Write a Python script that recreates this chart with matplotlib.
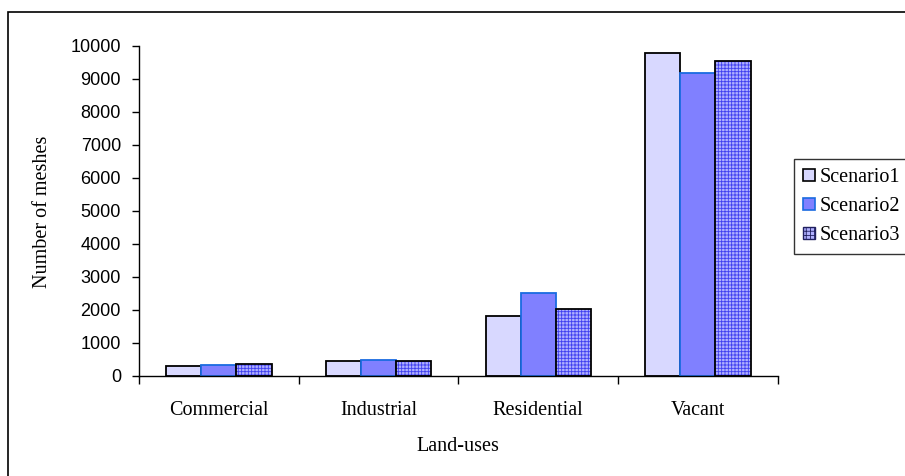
import matplotlib.pyplot as plt
import numpy as np
from matplotlib.patches import Patch, Rectangle

# meshes per land-use class for each scenario
land_uses = ['Commercial', 'Industrial', 'Residential', 'Vacant']
scenario1 = [300, 440, 1820, 9800]
scenario2 = [330, 470, 2520, 9180]
scenario3 = [370, 460, 2020, 9560]
series_names = ['Scenario1', 'Scenario2', 'Scenario3']

SERIF = ['Liberation Serif', 'DejaVu Serif']
SANS = ['Liberation Sans', 'DejaVu Sans']

plt.rcParams['hatch.linewidth'] = 0.6

fig = plt.figure(figsize=(9.05, 4.76), dpi=100)
ax = fig.add_axes([0.1536, 0.2101, 0.7058, 0.6933])

x = np.arange(len(land_uses))
w = 0.22

ax.bar(x - w, scenario1, w, color='#D8D8FF', edgecolor='black', linewidth=1.3)
ax.bar(x, scenario2, w, color='#8080FF', edgecolor='#1A6BE0', linewidth=1.3)
# fine blue grid for the third scenario, then a black outline on top
ax.bar(x + w, scenario3, w, color='#B0B0FF', edgecolor='#4040F0',
       hatch='+++++', linewidth=0)
ax.bar(x + w, scenario3, w, fill=False, edgecolor='black', linewidth=1.3)

ax.set_xlim(-0.5, len(land_uses) - 0.5)
ax.set_ylim(0, 10000)
ax.set_yticks(np.arange(0, 10001, 1000))
ax.set_yticklabels([str(v) for v in range(0, 10001, 1000)], family=SANS, fontsize=13)
ax.tick_params(axis='y', direction='out', length=5, width=1, pad=8)

# category ticks sit on the group boundaries
ax.set_xticks(np.arange(-0.5, len(land_uses), 1.0))
ax.set_xticklabels([])
ax.tick_params(axis='x', direction='out', length=6, width=1)
for xi, name in zip(x, land_uses):
    ax.text(xi, -0.075, name, transform=ax.get_xaxis_transform(),
            ha='center', va='top', family=SERIF, fontsize=14.5)

ax.spines['top'].set_visible(False)
ax.spines['right'].set_visible(False)
ax.spines['left'].set_linewidth(1)
ax.spines['bottom'].set_linewidth(1)

fig.text(0.506, 0.062, 'Land-uses', ha='center', va='center',
         family=SERIF, fontsize=14.5)
fig.text(0.047, 0.556, 'Number of meshes', ha='center', va='center',
         rotation=90, family=SERIF, fontsize=14.5)

handles = [
    Patch(facecolor='#D8D8FF', edgecolor='black', linewidth=1.2),
    Patch(facecolor='#8080FF', edgecolor='#1A6BE0', linewidth=1.2),
    Patch(facecolor='#B0B0FF', edgecolor='#202060', hatch='++++', linewidth=1.0),
]
leg = fig.legend(handles, series_names, loc='upper left',
                 bbox_to_anchor=(0.877, 0.666), frameon=True, fancybox=False,
                 prop={'family': SERIF, 'size': 14.5}, handlelength=0.6,
                 handleheight=0.6, handletextpad=0.25, labelspacing=0.5,
                 borderpad=0.45, borderaxespad=0)
leg.get_frame().set_edgecolor('black')
leg.get_frame().set_linewidth(1)

# outer chart frame, running off the right and bottom edges
fig.patches.append(Rectangle((0.009, -0.1), 1.2, 1.075, transform=fig.transFigure,
                             fill=False, edgecolor='black', linewidth=1.2))

fig.savefig('out.png', dpi=100)
